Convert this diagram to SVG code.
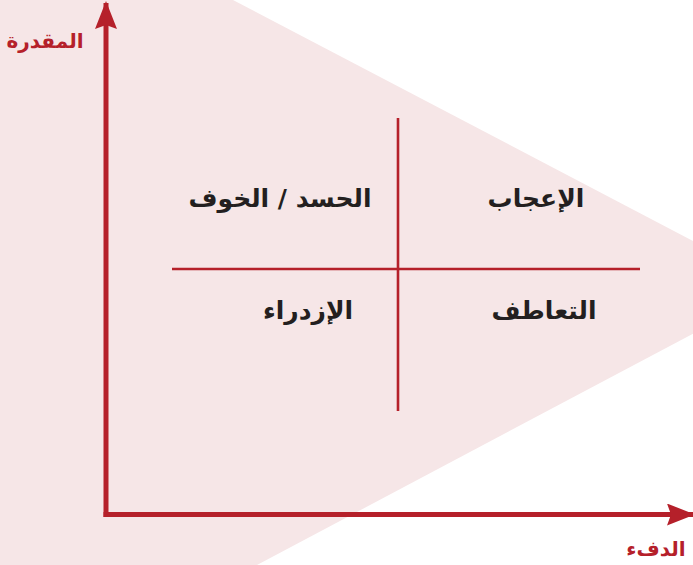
<svg xmlns="http://www.w3.org/2000/svg" width="693" height="565" viewBox="0 0 693 565">
<style>
.axis{stroke:#b5202a;stroke-width:5;fill:none}
.grid{stroke:#b5202a;stroke-width:2.6;fill:none}
.ax-label{font-family:"DejaVu Sans",sans-serif;font-weight:bold;font-size:20px;fill:#b5202a;text-anchor:middle}
.q-label{font-family:"DejaVu Sans",sans-serif;font-weight:bold;font-size:25px;fill:#231f20;text-anchor:middle}
</style>
<defs>
<marker id="arrow" viewBox="0 0 28 22" refX="26" refY="11" markerWidth="28" markerHeight="22" markerUnits="userSpaceOnUse" orient="auto">
<path d="M0,0 L28,11 L0,22 L4,11 Z" fill="#b5202a"/>
</marker>
</defs>
<polygon id="background" points="0,0 233,0 781,287 257,565 0,565" fill="#f6e6e7"/>
<g id="connectors">
<line class="axis" x1="106" y1="517" x2="106" y2="3" marker-end="url(#arrow)"/>
<line class="axis" x1="103.5" y1="514.5" x2="693" y2="514.5" marker-end="url(#arrow)"/>
<line class="grid" x1="398" y1="118" x2="398" y2="411"/>
<line class="grid" x1="172" y1="269" x2="640" y2="269"/>
</g>
<g id="axis-y-label"><text class="ax-label" x="45" y="48" direction="rtl">المقدرة</text></g>
<g id="axis-x-label"><text class="ax-label" x="656" y="556" direction="rtl">الدفء</text></g>
<g id="q-admiration"><text class="q-label" x="536" y="207" direction="rtl">الإعجاب</text></g>
<g id="q-envy"><text class="q-label" x="280" y="207" direction="rtl">الحسد / الخوف</text></g>
<g id="q-pity"><text class="q-label" x="544" y="319" direction="rtl">التعاطف</text></g>
<g id="q-contempt"><text class="q-label" x="308" y="319" direction="rtl">الإزدراء</text></g>
</svg>
